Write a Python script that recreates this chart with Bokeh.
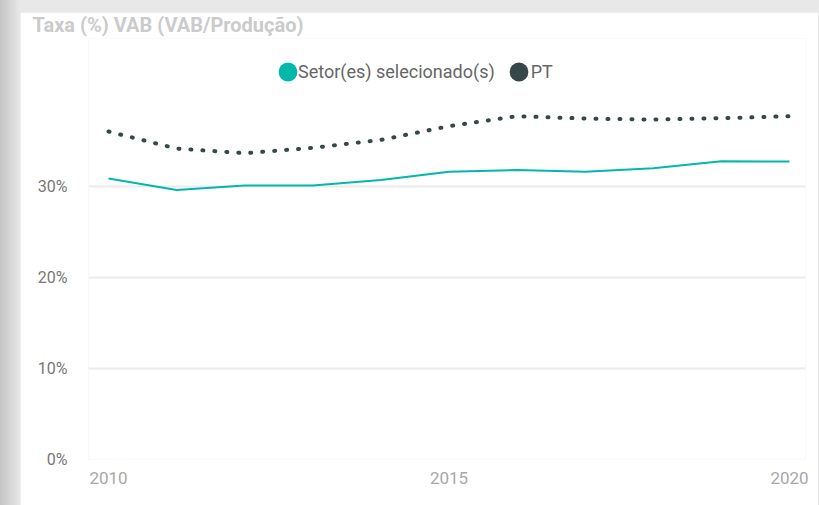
from bokeh.plotting import figure
from bokeh.models import (Range1d, FixedTicker, NumeralTickFormatter, Legend, LegendItem,
                          ColumnDataSource, Spacer)
from bokeh.layouts import row, column
from bokeh.embed import file_html
from bokeh.resources import INLINE

# ---- data ----
years = [2010, 2011, 2012, 2013, 2014, 2015, 2016, 2017, 2018, 2019, 2020]
setor = [0.3091, 0.2964, 0.3014, 0.3014, 0.3074, 0.3165, 0.3184, 0.3165, 0.3205, 0.3282, 0.3278]
pt = [0.3608, 0.3421, 0.3370, 0.3429, 0.3516, 0.3668, 0.3777, 0.3751, 0.3740, 0.3755, 0.3777]
series_names = ["Setor(es) selecionado(s)", "PT"]
x_ticks = [2010, 2015, 2020]
y_ticks = [0, 0.1, 0.2, 0.3]
title_text = "Taxa (%) VAB (VAB/Produção)"

TEAL = "#01B8AA"
DARK = "#374649"
FONT = "Roboto"

W, H = 798, 493
FRAME_TOP = 25.5        # height of the title panel (title text only)
FRAME_BOTTOM = 447
y_top = 0.1 * (FRAME_BOTTOM - FRAME_TOP) / 91.0

src = ColumnDataSource(dict(year=years, setor=setor, pt=pt))

p = figure(width=W, height=H,
           x_range=Range1d(2009.706, 2020.235), y_range=Range1d(0, y_top),
           output_backend="svg", toolbar_location=None,
           min_border_left=68, min_border_right=13, min_border_top=0,
           min_border_bottom=H - FRAME_BOTTOM,
           background_fill_color="white", border_fill_color="white",
           outline_line_color=None)

# title
p.title.text = title_text
p.title.align = "left"
p.title.vertical_align = "top"
p.title.offset = -56
p.title.standoff = 0
p.title.text_font = FONT
p.title.text_font_size = "20px"
p.title.text_font_style = "bold"
p.title.text_color = "#cbcbcb"

# axes
p.yaxis.ticker = FixedTicker(ticks=y_ticks)
p.yaxis.formatter = NumeralTickFormatter(format="0%")
p.yaxis.major_label_standoff = 21
p.xaxis.ticker = FixedTicker(ticks=x_ticks)
p.xaxis.major_label_standoff = 12
for ax in (p.xaxis, p.yaxis):
    ax.axis_line_color = None
    ax.major_tick_line_color = None
    ax.minor_tick_line_color = None
    ax.major_tick_out = 0
    ax.major_tick_in = 0
    ax.major_label_text_font = FONT
p.yaxis.major_label_text_font_size = "16px"
p.yaxis.major_label_text_color = "#777777"
p.xaxis.major_label_text_font_size = "17px"
p.xaxis.major_label_text_color = "#a8a8a8"

# grid
p.xgrid.visible = False
p.ygrid.ticker = FixedTicker(ticks=y_ticks)
p.ygrid.grid_line_color = "#ebebeb"
p.ygrid.grid_line_width = 2

# lines
p.line("year", "setor", source=src, line_color=TEAL, line_width=2)
p.line("year", "pt", source=src, line_color=DARK, line_width=4,
       line_dash="1 11", line_cap="round")

# legend glyphs (circles) - hidden renderers used only for the legend
r1 = p.scatter("year", "setor", source=src, size=18, fill_color=TEAL,
               line_color=None, visible=False)
r2 = p.scatter("year", "pt", source=src, size=18, fill_color=DARK,
               line_color=None, visible=False)

common = dict(orientation="horizontal", padding=0, margin=0,
              border_line_color=None, background_fill_alpha=0,
              label_text_font=FONT, label_standoff=0)

# circles
legend_c = Legend(items=[LegendItem(label=" ", renderers=[r1]),
                         LegendItem(label=" ", renderers=[r2])],
                  location=(176, 364), glyph_width=47, glyph_height=47,
                  spacing=184, label_text_font_size="1px", label_width=0,
                  **common)
# texts
legend_t = Legend(items=[LegendItem(label=series_names[0], renderers=[r1]),
                         LegendItem(label=series_names[1], renderers=[r2])],
                  location=(210, 377), glyph_width=0, glyph_height=20,
                  label_height=20, label_width=0, spacing=36,
                  label_text_font_size="18px", label_text_color="#666666",
                  **common)
p.add_layout(legend_c)
p.add_layout(legend_t)

layout = column(Spacer(width=W, height=12), row(Spacer(width=20, height=H), p))

html = file_html(layout, INLINE, title=title_text)
html = html.replace("</head>",
                    "<style>html,body{margin:0;padding:0;background:linear-gradient(to right,#c4c4c4 0px,#d9d9d9 12px,#e8e8e8 20px);}</style></head>", 1)
open("out.html", "w").write(html)
